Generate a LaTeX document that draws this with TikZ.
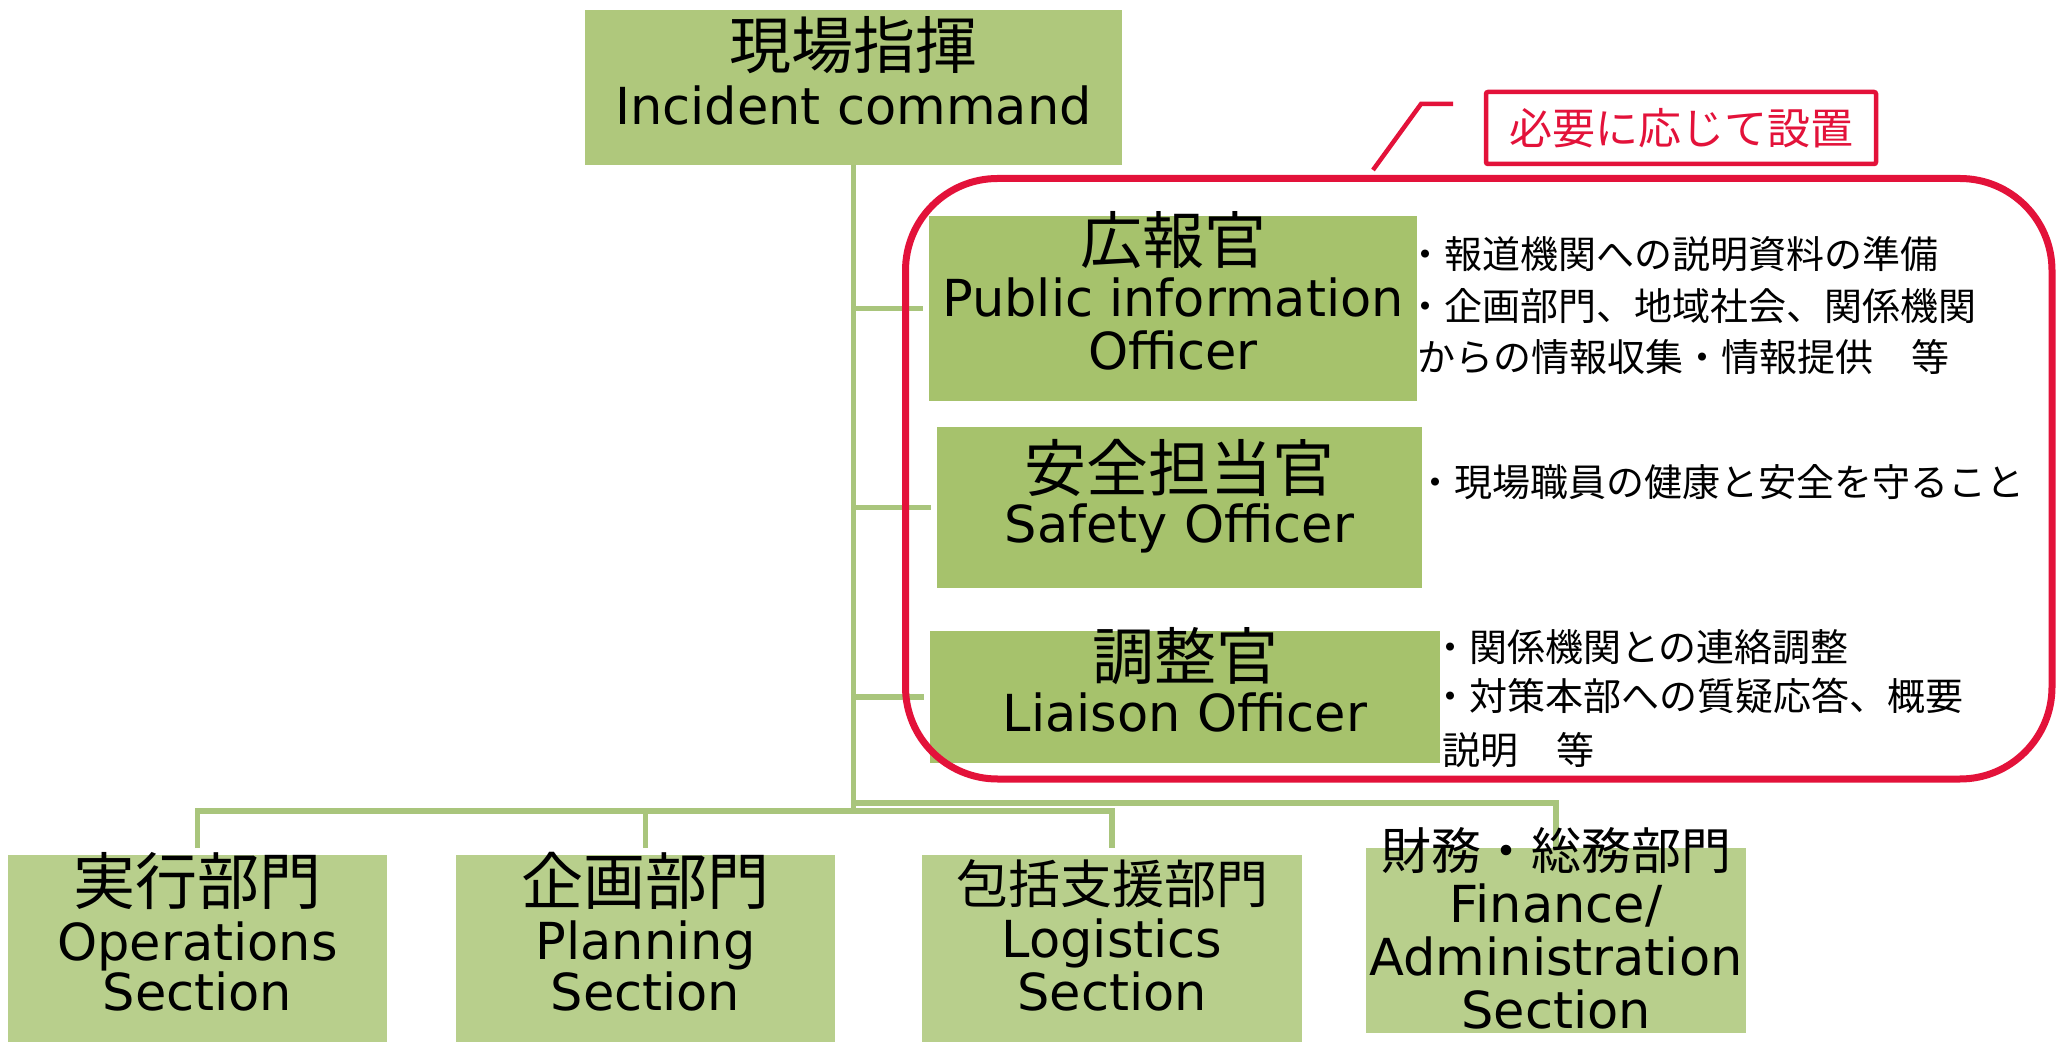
\documentclass[tikz,border=0pt]{standalone}
\usepackage{fontspec}
\setmainfont{DejaVu Sans}
\newfontfamily\jp{Noto Sans CJK JP}
\newcommand\latf{\fontsize{25.5}{30}\selectfont}
\newcommand\cjt{\jp\fontsize{31}{36}\selectfont}
\newcommand\cjbody{\jp\fontsize{19}{23}\selectfont}
\definecolor{gTop}{HTML}{AFC87C}
\definecolor{gOff}{HTML}{A6C26C}
\definecolor{gBot}{HTML}{B8CF8C}
\definecolor{gLine}{HTML}{A9C57C}
\definecolor{rMain}{HTML}{E3123A}
\begin{document}
\begin{tikzpicture}[x=0.5pt,y=-0.5pt,
  boxbase/.style={inner sep=0,outer sep=0,draw=none},
  topbox/.style={boxbase,fill=gTop},
  offbox/.style={boxbase,fill=gOff},
  botbox/.style={boxbase,fill=gBot,minimum height=93.5pt},
  conn/.style={draw=gLine,line width=2.75pt},
  t/.style={inner sep=0,outer sep=0,anchor=base},
  tb/.style={inner sep=0,outer sep=0,anchor=base west},
  redline/.style={draw=rMain,line width=2.25pt}]
\useasboundingbox (0,0) rectangle (2057,1042);
\fill[white] (0,0) rectangle (2057,1042);

% boxes
\node[topbox,minimum width=268.5pt,minimum height=77.5pt] (top) at (853.5,87.5) {};
\node[offbox,minimum width=244pt,minimum height=92.5pt] (pub) at (1173,308.5) {};
\node[offbox,minimum width=242.5pt,minimum height=80.5pt] (safe) at (1179.5,507.5) {};
\node[offbox,minimum width=255pt,minimum height=66pt] (liai) at (1185,697) {};
\node[botbox,minimum width=189.5pt] (ops) at (197.5,948.5) {};
\node[botbox,minimum width=189.5pt] (plan) at (645.5,948.5) {};
\node[botbox,minimum width=190pt] (logi) at (1112,948.5) {};
\node[botbox,minimum width=190pt,minimum height=92.5pt] (fin) at (1556,940.5) {};

% connectors
\coordinate (jL) at (853.5,811);
\coordinate (jR) at (853.5,803);
\draw[conn] (top.south) -- (jL);
\draw[conn,shorten >=3pt] (top.south |- pub.west) -- (pub.west);
\draw[conn,shorten >=3pt] (top.south |- safe.west) -- (safe.west);
\draw[conn,shorten >=3pt] (top.south |- liai.west) -- (liai.west);
\draw[conn,shorten <=3.5pt,shorten >=3.5pt] (ops.north) -- (ops.north |- jL) -- (logi.north |- jL) -- (logi.north);
\draw[conn,shorten <=3.5pt] (plan.north) -- (plan.north |- jL);
\draw[conn] (jR) -- (fin.north |- jR) -- (fin.north);

% red group
\node[draw=rMain,line width=3.5pt,rounded corners=46pt,inner sep=0,
      minimum width=573.25pt,minimum height=300.25pt] (grp) at (1478.75,478.75) {};
\node[draw=rMain,line width=2.25pt,inner sep=0,rounded corners=1pt,
      minimum width=195pt,minimum height=36pt,text=rMain] (lbl) at (1681,128)
      {\jp\fontsize{21.5}{25}\selectfont 必要に応じて設置};
\coordinate (ld1) at (1373,170);
\coordinate (ld2) at (1421,104);
\coordinate (ld3) at (1453,104);
\draw[redline] (ld1) -- (ld2) -- (ld3);

% box texts
\node[t] (topj) at (853.5,69) {\cjt 現場指揮};
\node[t] (tope) at (853.5,125) {\latf Incident command};
\node[t] (pubj) at (1173,264) {\cjt 広報官};
\node[t] (pube1) at (1173,317) {\latf Public information};
\node[t] (pube2) at (1173,370) {\latf Officer};
\node[t] (safej) at (1179.5,492) {\cjt 安全担当官};
\node[t] (safee) at (1179.5,543) {\latf Safety Officer};
\node[t] (liaij) at (1185,680) {\cjt 調整官};
\node[t] (liaie) at (1185,732) {\latf Liaison Officer};
\node[t] (opsj) at (197.5,904) {\cjt 実行部門};
\node[t] (opse1) at (197.5,960) {\latf Operations};
\node[t] (opse2) at (197.5,1010) {\latf Section};
\node[t] (planj) at (645.5,904) {\cjt 企画部門};
\node[t] (plane1) at (645.5,959) {\latf Planning};
\node[t] (plane2) at (645.5,1010) {\latf Section};
\node[t] (logij) at (1112,903) {\jp\fontsize{26}{30}\selectfont 包括支援部門};
\node[t] (logie1) at (1112,957) {\latf Logistics};
\node[t] (logie2) at (1112,1010) {\latf Section};
\node[t] (finj) at (1556,869) {\jp\fontsize{25}{30}\selectfont 財務・総務部門};
\node[t] (fine1) at (1556,922) {\latf Finance/};
\node[t] (fine2) at (1556,975) {\latf Administration};
\node[t] (fine3) at (1556,1028) {\latf Section};

% descriptions
\node[tb] (pubd1) at (1406,269) {\cjbody ・報道機関への説明資料の準備};
\node[tb] (pubd2) at (1406,321) {\cjbody ・企画部門、地域社会、関係機関};
\node[tb] (pubd3) at (1417,372) {\cjbody からの情報収集・情報提供　等};
\node[tb] (safed1) at (1416,497) {\cjbody ・現場職員の健康と安全を守ること};
\node[tb] (liaid1) at (1431,662) {\cjbody ・関係機関との連絡調整};
\node[tb] (liaid2) at (1431,711) {\cjbody ・対策本部への質疑応答、概要};
\node[tb] (liaid3) at (1442,764) {\cjbody 説明　等};
\end{tikzpicture}
\end{document}
